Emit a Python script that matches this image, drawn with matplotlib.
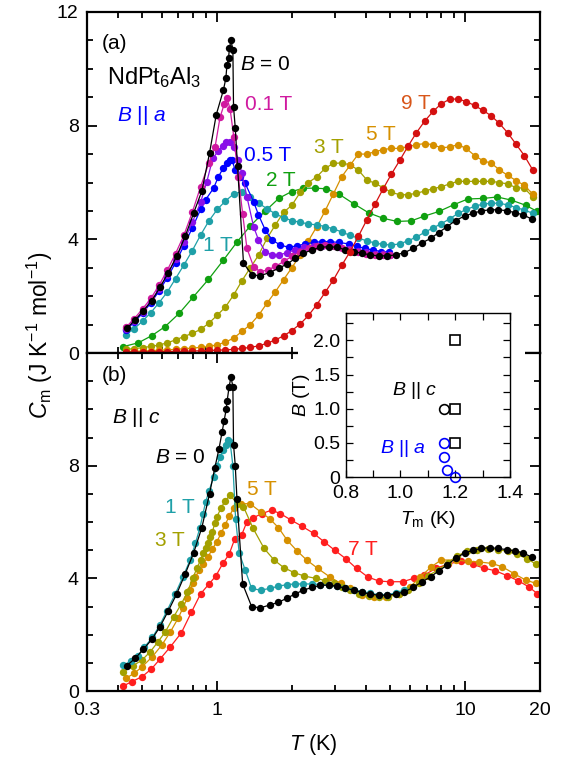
import matplotlib
matplotlib.use("Agg")
import matplotlib.pyplot as plt
from matplotlib.patches import Rectangle
from matplotlib.ticker import MultipleLocator, LogLocator, NullFormatter, FixedLocator

plt.rcParams['font.family'] = ['Liberation Sans', 'DejaVu Sans']
plt.rcParams['mathtext.fontset'] = 'custom'
plt.rcParams['mathtext.rm'] = 'Liberation Sans'
plt.rcParams['mathtext.it'] = 'Liberation Sans:italic'
plt.rcParams['mathtext.bf'] = 'Liberation Sans:bold'

# ---- (a) B || a ----
T_grid = [0.430, 0.464, 0.502, 0.542, 0.585, 0.632, 0.682, 0.737, 0.796, 0.860,
          0.929, 1.003, 1.083, 1.170, 1.263, 1.364, 1.473, 1.591, 1.718, 1.856,
          2.004, 2.165, 2.338, 2.525, 2.727, 2.945, 3.180, 3.435, 3.710, 4.007,
          4.327, 4.673, 5.047, 5.451, 5.887, 6.358, 6.867, 7.416, 8.009, 8.650,
          9.342, 10.09, 10.90, 11.77, 12.71, 13.72, 14.82, 16.01, 17.29, 18.67]

a_9T = [0.03, 0.03, 0.04, 0.04, 0.05, 0.05, 0.06, 0.06, 0.07, 0.08,
        0.09, 0.10, 0.11, 0.13, 0.16, 0.20, 0.25, 0.34, 0.46, 0.60,
        0.79, 1.02, 1.32, 1.70, 2.13, 2.57, 3.08, 3.56, 4.10, 4.67,
        5.23, 5.78, 6.30, 6.78, 7.28, 7.75, 8.16, 8.50, 8.77, 8.93,
        8.94, 8.85, 8.71, 8.54, 8.35, 8.08, 7.75, 7.35, 6.95, 6.45]

a_5T = [0.05, 0.06, 0.07, 0.08, 0.10, 0.11, 0.13, 0.15, 0.17, 0.20,
        0.23, 0.29, 0.38, 0.53, 0.76, 1.00, 1.33, 1.75, 2.15, 2.58,
        3.00, 3.45, 3.95, 4.45, 5.00, 5.60, 6.20, 6.60, 7.00, 7.00,
        7.08, 7.16, 7.20, 7.20, 7.26, 7.33, 7.37, 7.33, 7.22, 7.25,
        7.33, 7.20, 6.95, 6.77, 6.68, 6.45, 6.25, 6.07, 5.90, 5.60]

a_3T = [0.13, 0.15, 0.19, 0.23, 0.28, 0.36, 0.46, 0.58, 0.69, 0.83,
        1.05, 1.33, 1.62, 2.05, 2.55, 3.00, 3.45, 4.03, 4.50, 4.95,
        5.20, 5.65, 6.00, 6.20, 6.50, 6.67, 6.69, 6.62, 6.44, 6.10,
        5.97, 5.82, 5.65, 5.57, 5.57, 5.62, 5.70, 5.78, 5.85, 5.95,
        6.04, 6.04, 6.04, 6.04, 6.04, 6.00, 5.95, 5.82, 5.80, 5.50]

a_1T = [0.65, 0.85, 1.12, 1.42, 1.77, 2.15, 2.62, 3.10, 3.60, 4.15,
        4.65, 5.05, 5.35, 5.60, 5.68, 5.50, 5.27, 5.08, 4.90, 4.76,
        4.66, 4.60, 4.54, 4.51, 4.45, 4.37, 4.26, 4.14, 4.04, 3.95,
        3.87, 3.82, 3.80, 3.84, 3.95, 4.08, 4.25, 4.40, 4.55, 4.72,
        4.91, 5.05, 5.16, 5.24, 5.27, 5.27, 5.21, 5.12, 5.03, 4.92]

T_a_2T = [0.418, 0.483, 0.547, 0.619, 0.706, 0.805, 0.925, 1.063, 1.204, 1.362,
          1.56, 1.78, 2.0, 2.23, 2.49, 2.75, 3.09, 3.56, 4.09, 4.67,
          5.32, 6.06, 6.81, 7.83, 9.0, 10.25, 11.82, 13.46, 15.33, 17.5, 19.5]
a_2T = [0.22, 0.36, 0.61, 0.93, 1.40, 1.98, 2.59, 3.27, 3.90, 4.47,
        4.98, 5.45, 5.68, 5.80, 5.80, 5.78, 5.60, 5.25, 4.93, 4.74,
        4.63, 4.65, 4.81, 4.98, 5.22, 5.42, 5.44, 5.49, 5.38, 5.20, 4.98]

T_a_05T = [0.43, 0.464, 0.502, 0.542, 0.585, 0.632, 0.682, 0.737, 0.796, 0.86,
           0.90, 0.97, 1.015, 1.06, 1.097, 1.13, 1.15, 1.185, 1.24, 1.30,
           1.405, 1.471, 1.566, 1.667, 1.80, 1.944, 2.10, 2.27, 2.453, 2.651,
           2.863, 3.093, 3.394, 3.66, 3.95, 4.27, 4.6, 4.95]
a_05T = [0.80, 1.08, 1.40, 1.76, 2.18, 2.65, 3.18, 3.78, 4.40, 5.05,
         5.39, 5.80, 6.21, 6.50, 6.68, 6.78, 6.80, 6.44, 6.20, 5.97,
         5.33, 4.86, 4.33, 3.98, 3.80, 3.72, 3.77, 3.84, 3.89, 3.92,
         3.92, 3.89, 3.84, 3.75, 3.68, 3.62, 3.57, 3.55]

T_a_03T = [0.43, 0.464, 0.502, 0.542, 0.585, 0.632, 0.682, 0.737, 0.796, 0.86,
           0.911, 0.963, 1.015, 1.06, 1.088, 1.13, 1.167, 1.22, 1.261, 1.321,
           1.405, 1.471, 1.566, 1.667, 1.779, 1.916, 2.068, 2.25, 2.45, 2.65,
           2.86, 3.09, 3.39, 3.71, 4.0, 4.33, 4.67, 5.0]
a_03T = [0.85, 1.12, 1.45, 1.82, 2.25, 2.75, 3.30, 3.92, 4.60, 5.30,
         6.03, 6.85, 7.12, 7.30, 7.42, 7.42, 7.26, 6.80, 6.33, 5.50,
         4.45, 3.98, 3.57, 3.45, 3.45, 3.53, 3.63, 3.72, 3.77, 3.78,
         3.76, 3.72, 3.66, 3.60, 3.55, 3.50, 3.47, 3.45]

T_a_01T = [0.43, 0.464, 0.502, 0.542, 0.585, 0.632, 0.682, 0.737, 0.796, 0.86,
           0.93, 0.984, 1.03, 1.07, 1.098, 1.13, 1.17, 1.22, 1.27, 1.321,
           1.405, 1.495, 1.6, 1.72, 1.86, 2.0, 2.17, 2.34, 2.53, 2.73,
           2.95, 3.18, 3.44, 3.71, 4.0, 4.33, 4.67, 5.0]
a_01T = [0.90, 1.20, 1.55, 1.92, 2.38, 2.92, 3.50, 4.15, 4.95, 5.85,
         6.70, 7.26, 8.30, 8.75, 8.96, 8.60, 7.60, 6.20, 4.90, 3.69,
         3.04, 2.86, 2.92, 3.05, 3.22, 3.40, 3.57, 3.70, 3.78, 3.80,
         3.77, 3.70, 3.62, 3.56, 3.50, 3.46, 3.45, 3.44]

T_a_0T = [0.434, 0.469, 0.506, 0.547, 0.590, 0.638, 0.690, 0.745, 0.806, 0.870,
          0.934, 0.994, 1.063, 1.087, 1.098, 1.114, 1.124, 1.140, 1.160, 1.167,
          1.186, 1.211, 1.280, 1.384, 1.495, 1.630, 1.772, 1.916, 2.070, 2.230,
          2.420, 2.610, 2.820, 3.050, 3.290, 3.550, 3.840, 4.150, 4.480, 4.850,
          5.240, 5.690, 6.170, 6.710, 7.250, 7.830, 8.460, 9.140, 9.940, 10.77,
          11.61, 12.57, 13.53, 14.68, 15.81, 17.14, 18.64]
a_0T = [0.87, 1.16, 1.49, 1.84, 2.31, 2.83, 3.42, 4.10, 4.92, 5.70,
        7.03, 8.38, 9.26, 9.67, 10.14, 10.38, 10.73, 11.00, 10.67, 8.67,
        7.92, 6.58, 3.16, 2.75, 2.72, 2.83, 2.98, 3.13, 3.33, 3.51,
        3.63, 3.72, 3.74, 3.72, 3.63, 3.57, 3.51, 3.45, 3.42, 3.42,
        3.45, 3.53, 3.68, 3.88, 4.03, 4.24, 4.45, 4.66, 4.82, 4.92,
        5.00, 5.04, 5.04, 5.01, 4.94, 4.86, 4.70]

# ---- (b) B || c ----
T_b_0T = [0.434, 0.469, 0.506, 0.547, 0.590, 0.638, 0.690, 0.745, 0.806, 0.870,
          0.934, 0.98, 1.02, 1.05, 1.07, 1.09, 1.10, 1.12, 1.14, 1.16,
          1.167, 1.186, 1.205, 1.27, 1.38, 1.49, 1.63, 1.77, 1.92, 2.07,
          2.23, 2.42, 2.61, 2.82, 3.05, 3.29, 3.55, 3.84, 4.15, 4.48,
          4.85, 5.24, 5.69, 6.17, 6.71, 7.25, 7.83, 8.46, 9.14, 9.94,
          10.77, 11.61, 12.57, 13.53, 14.68, 15.81, 17.14, 18.64]
b_0T = [0.90, 1.16, 1.48, 1.83, 2.28, 2.85, 3.46, 4.15, 4.90, 5.80,
        7.00, 7.90, 8.60, 9.20, 9.60, 10.0, 10.3, 10.8, 11.15, 10.8,
        8.75, 8.00, 6.80, 3.80, 3.00, 2.95, 3.05, 3.15, 3.30, 3.45,
        3.58, 3.68, 3.75, 3.76, 3.72, 3.65, 3.58, 3.50, 3.44, 3.40,
        3.40, 3.44, 3.52, 3.68, 3.88, 4.05, 4.27, 4.47, 4.71, 4.90,
        5.00, 5.06, 5.09, 5.06, 5.02, 4.98, 4.90, 4.74]

T_b_1T = [0.42, 0.45, 0.48, 0.51, 0.55, 0.59, 0.63, 0.68, 0.73, 0.78,
          0.82, 0.855, 0.88, 0.90, 0.93, 0.97, 1.0, 1.03, 1.06, 1.09,
          1.11, 1.13, 1.16, 1.19, 1.23, 1.30, 1.38, 1.5, 1.63, 1.77,
          1.92, 2.07, 2.23, 2.42, 2.61, 2.82, 3.05, 3.29, 3.55, 3.84,
          4.15, 4.48, 4.85, 5.24, 5.69]
b_1T = [0.92, 1.05, 1.25, 1.55, 1.90, 2.35, 2.85, 3.45, 4.05, 4.65,
        5.25, 5.80, 6.30, 6.70, 7.10, 7.60, 8.00, 8.30, 8.55, 8.75,
        8.90, 8.85, 8.00, 6.10, 4.90, 4.30, 3.64, 3.58, 3.64, 3.72,
        3.78, 3.80, 3.80, 3.80, 3.78, 3.75, 3.72, 3.66, 3.60, 3.53,
        3.47, 3.42, 3.42, 3.48, 3.58]

T_b_3T = [0.42, 0.46, 0.50, 0.54, 0.58, 0.62, 0.67, 0.72, 0.76, 0.80,
          0.83, 0.86, 0.88, 0.90, 0.92, 0.94, 0.96, 0.98, 1.0, 1.04,
          1.08, 1.13, 1.21, 1.28, 1.40, 1.55, 1.70, 1.86, 2.05, 2.25,
          2.5, 2.73, 2.95, 3.2, 3.45, 3.75, 4.1, 4.5, 4.9, 5.4,
          5.9, 6.5, 7.1, 7.8, 8.5, 9.3, 10.2, 11.2, 12.3, 13.5,
          14.8, 16.2, 17.7, 19.3]
b_3T = [0.68, 0.90, 1.10, 1.40, 1.75, 2.10, 2.63, 3.10, 3.50, 4.00,
        4.35, 4.65, 4.90, 5.06, 5.25, 5.45, 5.65, 5.95, 6.18, 6.50,
        6.75, 6.95, 6.65, 6.54, 5.77, 5.06, 4.65, 4.38, 4.20, 4.08,
        4.00, 3.92, 3.82, 3.70, 3.58, 3.45, 3.37, 3.33, 3.34, 3.45,
        3.60, 3.85, 4.10, 4.30, 4.55, 4.80, 4.97, 5.02, 5.03, 5.02,
        4.96, 4.85, 4.70, 4.50]

T_b_5T = [0.43, 0.465, 0.50, 0.55, 0.60, 0.65, 0.70, 0.73, 0.76, 0.78,
          0.80, 0.82, 0.85, 0.88, 0.92, 0.96, 1.0, 1.04, 1.08, 1.12,
          1.17, 1.25, 1.36, 1.50, 1.63, 1.77, 1.92, 2.1, 2.3, 2.55,
          2.85, 3.15, 3.45, 3.85, 4.3, 4.8, 5.4, 6.0, 6.6, 7.3,
          8.0, 9.2, 10.3, 11.4, 12.8, 14.1, 15.7, 17.5, 19.3]
b_5T = [0.45, 0.63, 0.86, 1.22, 1.63, 2.10, 2.60, 2.95, 3.30, 3.60,
        3.85, 4.05, 4.30, 4.50, 4.75, 5.05, 5.30, 5.60, 5.90, 6.20,
        6.50, 6.65, 6.65, 6.36, 6.12, 5.80, 5.35, 4.98, 4.65, 4.35,
        4.05, 3.82, 3.64, 3.42, 3.34, 3.34, 3.46, 3.70, 4.05, 4.41,
        4.65, 4.65, 4.60, 4.58, 4.53, 4.41, 4.17, 3.94, 3.82]

T_b_7T = [0.42, 0.454, 0.50, 0.545, 0.59, 0.65, 0.72, 0.79, 0.86, 0.93,
          0.99, 1.06, 1.12, 1.18, 1.26, 1.32, 1.40, 1.52, 1.66, 1.80,
          1.98, 2.2, 2.45, 2.7, 2.98, 3.3, 3.65, 4.05, 4.5, 5.0,
          5.6, 6.2, 6.85, 7.6, 8.5, 9.6, 10.7, 11.9, 13.2, 14.7,
          16.3, 18.0, 19.5]
b_7T = [0.18, 0.33, 0.51, 0.78, 1.13, 1.57, 2.07, 2.80, 3.45, 3.80,
        4.08, 4.55, 4.85, 5.40, 5.55, 6.00, 6.15, 6.30, 6.42, 6.30,
        6.08, 5.85, 5.60, 5.30, 5.00, 4.70, 4.35, 4.05, 3.90, 3.88,
        3.88, 4.00, 4.12, 4.35, 4.50, 4.62, 4.50, 4.36, 4.27, 4.10,
        3.92, 3.70, 3.46]

# inset: transition temperature vs field
Tm_c_sq = [1.20, 1.20, 1.20]
B_c_sq = [2.0, 1.0, 0.5]
Tm_c_ci = [1.16]
B_c_ci = [1.0]
Tm_a_ci = [1.16, 1.16, 1.17, 1.20]
B_a_ci = [0.5, 0.3, 0.1, 0.0]

BLACK = '#000000'
MAGENTA = '#d01aa0'
PURPLE = '#8a10e8'
BLUE = '#0000ff'
TEAL = '#1fa0a8'
GREEN = '#10a010'
OLIVE = '#a3a000'
ORANGE = '#d69000'
DRED = '#d41010'
RED = '#ff1e1e'


def curve(ax, T, C, color, z=2):
    ax.plot(T, C, '-o', color=color, lw=0.9, ms=5.3, mew=0, zorder=z)


def style_main(ax):
    ax.set_xscale('log')
    ax.set_xlim(0.3, 20)
    ax.set_ylim(0, 12)
    ax.xaxis.set_major_locator(FixedLocator([0.3, 1, 10, 20]))
    ax.xaxis.set_minor_locator(LogLocator(base=10, subs=range(2, 10)))
    ax.xaxis.set_minor_formatter(NullFormatter())
    ax.yaxis.set_minor_locator(MultipleLocator(1))
    ax.tick_params(which='both', direction='in', top=True, right=True,
                   labelsize=14, width=1.3)
    ax.tick_params(which='major', length=7)
    ax.tick_params(which='minor', length=4)
    ax.tick_params(axis='y', pad=6)
    ax.tick_params(axis='x', pad=8)
    for s in ax.spines.values():
        s.set_linewidth(1.6)


fig = plt.figure(figsize=(5.7, 7.58), dpi=100)
W, H = 570.0, 758.0
ax_a = fig.add_axes([87 / W, 1 - 353 / H, 453 / W, 341 / H])
ax_b = fig.add_axes([87 / W, 1 - 691 / H, 453 / W, 338 / H])
style_main(ax_a)
style_main(ax_b)

ax_a.set_yticks([0, 4, 8, 12])
ax_a.tick_params(labelbottom=False)
ax_b.set_yticks([0, 4, 8])
ax_b.set_xticklabels(['0.3', '1', '10', '20'])

# panel (a)
curve(ax_a, T_a_2T, a_2T, GREEN)
curve(ax_a, T_grid, a_3T, OLIVE)
curve(ax_a, T_grid, a_5T, ORANGE)
curve(ax_a, T_grid, a_1T, TEAL)
curve(ax_a, T_a_05T, a_05T, BLUE)
curve(ax_a, T_a_03T, a_03T, PURPLE)
curve(ax_a, T_a_01T, a_01T, MAGENTA)
curve(ax_a, T_a_0T, a_0T, BLACK)
curve(ax_a, T_grid, a_9T, DRED)

# panel (b)
curve(ax_b, T_b_7T, b_7T, RED)
curve(ax_b, T_b_5T, b_5T, ORANGE)
curve(ax_b, T_b_3T, b_3T, OLIVE)
curve(ax_b, T_b_1T, b_1T, TEAL)
curve(ax_b, T_b_0T, b_0T, BLACK)

fs = 15
ax_a.text(0.345, 10.9, '(a)', fontsize=fs, va='center')
ax_a.text(0.36, 9.7, r'NdPt$_6$Al$_3$', fontsize=17, va='center')
ax_a.text(0.396, 8.35, r'$B$ || $a$', fontsize=fs, va='center', color=BLUE)
ax_a.text(1.24, 10.16, r'$B$ = 0', fontsize=fs, va='center')
ax_a.text(1.30, 8.75, '0.1 T', fontsize=fs, va='center', color=MAGENTA)
ax_a.text(1.29, 6.95, '0.5 T', fontsize=fs, va='center', color=BLUE)
ax_a.text(1.57, 6.07, '2 T', fontsize=fs, va='center', color=GREEN)
ax_a.text(0.88, 3.80, '1 T', fontsize=fs, va='center', color=TEAL)
ax_a.text(2.45, 7.22, '3 T', fontsize=fs, va='center', color=OLIVE)
ax_a.text(4.0, 7.69, '5 T', fontsize=fs, va='center', color=ORANGE)
ax_a.text(5.49, 8.79, '9 T', fontsize=fs, va='center', color='#d8561a')

ax_b.text(0.345, 11.2, '(b)', fontsize=fs, va='center')
ax_b.text(0.378, 9.72, r'$B$ || $c$', fontsize=fs, va='center')
ax_b.text(0.564, 8.28, r'$B$ = 0', fontsize=fs, va='center')
ax_b.text(0.619, 6.51, '1 T', fontsize=fs, va='center', color=TEAL)
ax_b.text(0.564, 5.34, '3 T', fontsize=fs, va='center', color=OLIVE)
ax_b.text(1.325, 7.15, '5 T', fontsize=fs, va='center', color=ORANGE)
ax_b.text(3.38, 5.02, '7 T', fontsize=fs, va='center', color=RED)

ax_b.set_xlabel(r'$T$ (K)', fontsize=15.5, labelpad=9)
fig.text(40 / W, 1 - 335 / H, r'$C_{\rm m}$ (J K$^{-1}$ mol$^{-1}$)',
         fontsize=16.5, rotation=90, ha='center', va='center')

# white backing behind the inset and its tick labels
for x0, x1, y0, y1 in [(298, 346, 330, 505), (346, 525, 330, 537)]:
    fig.add_artist(Rectangle((x0 / W, 1 - y1 / H), (x1 - x0) / W, (y1 - y0) / H,
                             transform=fig.transFigure, facecolor='white',
                             edgecolor='none', zorder=1))

ax_in = fig.add_axes([345.7 / W, 1 - 477 / H, 164.3 / W, 164 / H], zorder=3)
ax_in.set_xlim(0.8, 1.4)
ax_in.set_ylim(0, 2.4)
ax_in.xaxis.set_major_locator(FixedLocator([0.8, 1.0, 1.2, 1.4]))
ax_in.xaxis.set_minor_locator(MultipleLocator(0.1))
ax_in.yaxis.set_major_locator(FixedLocator([0, 0.5, 1.0, 1.5, 2.0]))
ax_in.yaxis.set_minor_locator(MultipleLocator(0.25))
ax_in.set_xticklabels(['0.8', '1.0', '1.2', '1.4'])
ax_in.set_yticklabels(['0', '0.5', '1.0', '1.5', '2.0'])
ax_in.tick_params(which='both', direction='in', top=True, right=True,
                  labelsize=14, width=0.9)
ax_in.tick_params(axis='x', pad=6)
ax_in.tick_params(axis='y', pad=4)
ax_in.tick_params(which='major', length=5)
ax_in.tick_params(which='minor', length=5)
for s in ax_in.spines.values():
    s.set_linewidth(1.0)
ax_in.plot(Tm_c_sq, B_c_sq, 's', ms=6.8, mfc='none', mec=BLACK, mew=1.2, clip_on=False)
ax_in.plot(Tm_c_ci, B_c_ci, 'o', ms=7, mfc='none', mec=BLACK, mew=1.2, clip_on=False)
ax_in.plot(Tm_a_ci, B_a_ci, 'o', ms=7, mfc='none', mec=BLUE, mew=1.2, clip_on=False)
ax_in.text(0.969, 1.27, r'$B$ || $c$', fontsize=14, va='center')
ax_in.text(0.925, 0.42, r'$B$ || $a$', fontsize=14, va='center', color=BLUE)
ax_in.set_xlabel(r'$T_{\rm m}$ (K)', fontsize=14, labelpad=5)
ax_in.set_ylabel(r'$B$ (T)', fontsize=14, labelpad=1)

fig.savefig('out.png', dpi=100)
